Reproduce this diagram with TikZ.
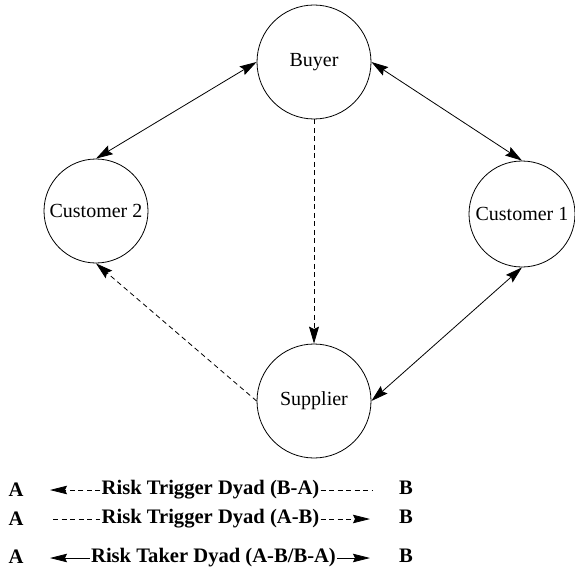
\documentclass[tikz,border=0pt]{standalone}
\usepackage{fontspec}
\setmainfont{Liberation Serif}
\usetikzlibrary{arrows.meta}
\begin{document}
\begin{tikzpicture}[x=1pt,y=-1pt,
  actor/.style={draw,circle,line width=0.8pt,inner sep=0pt,
    font=\fontsize{20}{22}\selectfont},
  link/.style={line width=0.8pt},
  tip/.style={-{Stealth[length=17pt,width=10pt,inset=2.5pt]}},
  bitip/.style={{Stealth[length=17pt,width=10pt,inset=2.5pt]}-{Stealth[length=17pt,width=10pt,inset=2.5pt]}},
  dsh/.style={dash pattern=on 5pt off 3.5pt},
  legtxt/.style={inner sep=1pt,font=\fontsize{20.6}{23}\selectfont\bfseries},
  legtip/.style={-{Stealth[length=17pt,width=8.5pt,inset=2pt]}}]
\useasboundingbox (0,0) rectangle (575,575);

% actors
\node[actor,minimum size=114pt] (buyer) at (314,62) {Buyer};
\node[actor,minimum size=114pt] (supplier) at (314,401) {Supplier};
\node[actor,minimum size=104pt] (cust2) at (96,211) {Customer 2};
\node[actor,minimum size=106pt] (cust1) at (522,214) {Customer 1};

% dyads
\draw[link,bitip] (buyer.west) -- (cust2.north);
\draw[link,bitip] (buyer.east) -- (cust1.north);
\draw[link,bitip] (supplier.east) -- (cust1.south);
\draw[link,dsh,tip] (buyer.south) -- (supplier.north);
\draw[link,dsh,tip] (supplier.west) -- (cust2.south);

% legend
\node[legtxt] (a1) at (16,490) {A};
\node[legtxt] (a2) at (16,519) {A};
\node[legtxt] (a3) at (16,557) {A};
\node[legtxt] (b1) at (406,488) {B};
\node[legtxt] (b2) at (406,517) {B};
\node[legtxt] (b3) at (406,556) {B};

\node[legtxt] (t1) at (210.5,490) {Risk Trigger Dyad (B-A)};
\node[legtxt] (t2) at (210.5,519) {Risk Trigger Dyad (A-B)};
\node[legtxt] (t3) at (213.5,558) {Risk Taker Dyad (A-B/B-A)};

\coordinate (l1a) at (50,490);
\coordinate (l1b) at (372,490);
\coordinate (l2a) at (53,519);
\coordinate (l2b) at (370,519);
\coordinate (l3a) at (50,558);
\coordinate (l3b) at (370,558);

\draw[link,dsh,legtip] (t1.west) -- (l1a);
\draw[link,dsh] (t1.east) -- (l1b);
\draw[link,dsh] (l2a) -- (t2.west);
\draw[link,dsh,legtip] (t2.east) -- (l2b);
\draw[link,legtip] (t3.west) -- (l3a);
\draw[link,legtip] (t3.east) -- (l3b);
\end{tikzpicture}
\end{document}
